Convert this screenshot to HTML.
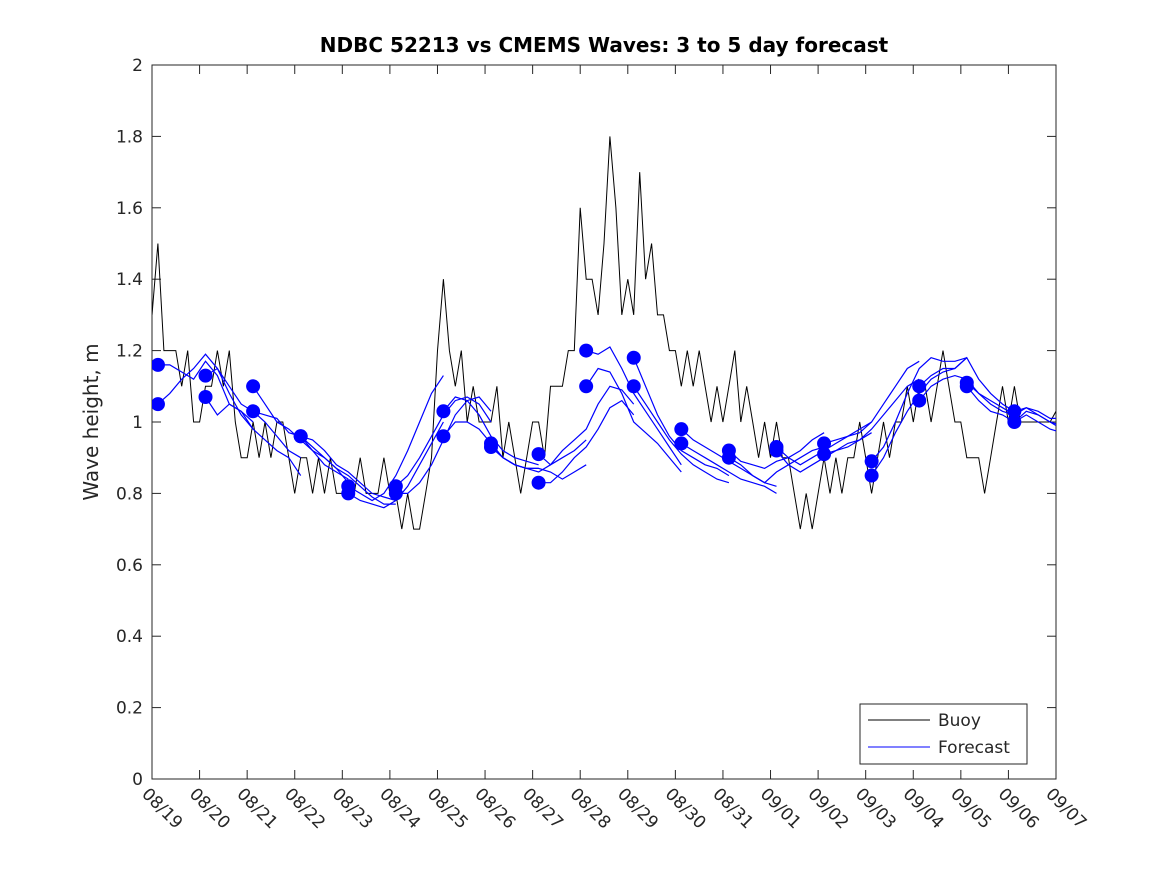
<!DOCTYPE html>
<html><head><meta charset="utf-8"><style>
body{margin:0;background:#fff}
svg text{font-family:"DejaVu Sans","Liberation Sans",sans-serif;fill:#262626}
</style></head><body>
<svg id="chart" width="1167" height="875" viewBox="0 0 1167 875" xmlns="http://www.w3.org/2000/svg">
<defs><clipPath id="plotclip"><rect x="152" y="65" width="904" height="714"/></clipPath></defs>
<rect x="0" y="0" width="1167" height="875" fill="#fff"/>
<text x="604" y="52" text-anchor="middle" font-size="20" font-weight="bold" style="fill:#000">NDBC 52213 vs CMEMS Waves: 3 to 5 day forecast</text>
<text transform="translate(98,422) rotate(-90)" text-anchor="middle" font-size="20">Wave height, m</text>
<g id="axes"></g>
<g id="buoy" clip-path="url(#plotclip)"></g>
<g id="fc" clip-path="url(#plotclip)"></g>
<g>
<rect x="860" y="704" width="167" height="60" fill="#fff" stroke="#262626" stroke-width="1"/>
<line x1="868" y1="720" x2="930" y2="720" stroke="#000" stroke-width="1"/>
<text x="938" y="726" font-size="17">Buoy</text>
<line x1="868" y1="747" x2="930" y2="747" stroke="#0000ff" stroke-width="1"/>
<text x="938" y="753" font-size="17">Forecast</text>
</g>
</svg>
<script>
const xTickLabels=["08/19","08/20","08/21","08/22","08/23","08/24","08/25","08/26","08/27","08/28","08/29","08/30","08/31","09/01","09/02","09/03","09/04","09/05","09/06","09/07"];
const yTickValues=[0,0.2,0.4,0.6,0.8,1,1.2,1.4,1.6,1.8,2];
const yTickLabels=["0","0.2","0.4","0.6","0.8","1","1.2","1.4","1.6","1.8","2"];
// buoy: 8 values per day (3-hourly)
const buoyValues=[
1.3,1.5,1.2,1.2,1.2,1.1,1.2,1.0,
1.0,1.1,1.1,1.2,1.1,1.2,1.0,0.9,
0.9,1.0,0.9,1.0,0.9,1.0,1.0,0.9,
0.8,0.9,0.9,0.8,0.9,0.8,0.9,0.8,
0.8,0.8,0.8,0.9,0.8,0.8,0.8,0.9,
0.8,0.8,0.7,0.8,0.7,0.7,0.8,0.9,
1.2,1.4,1.2,1.1,1.2,1.0,1.1,1.0,
1.0,1.0,1.1,0.9,1.0,0.9,0.8,0.9,
1.0,1.0,0.9,1.1,1.1,1.1,1.2,1.2,
1.6,1.4,1.4,1.3,1.5,1.8,1.6,1.3,
1.4,1.3,1.7,1.4,1.5,1.3,1.3,1.2,
1.2,1.1,1.2,1.1,1.2,1.1,1.0,1.1,
1.0,1.1,1.2,1.0,1.1,1.0,0.9,1.0,
0.9,1.0,0.9,0.9,0.8,0.7,0.8,0.7,
0.8,0.9,0.8,0.9,0.8,0.9,0.9,1.0,
0.9,0.8,0.9,1.0,0.9,1.0,1.0,1.1,
1.0,1.1,1.1,1.0,1.1,1.2,1.1,1.0,
1.0,0.9,0.9,0.9,0.8,0.9,1.0,1.1,
1.0,1.1,1.0,1.0,1.0,1.0,1.0,1.0,1.03];
// forecast runs: start day index, values every 6h from start (day+3h)
const runStartDays=[0,0,1,1,2,2,3,3,4,4,5,5,6,6,7,7,8,8,9,9,10,10,11,11,12,12,13,13,14,14,15,15,16,16,17,17,18,18];
const runValues=[
[1.16,1.16,1.14,1.12,1.17,1.13,1.05,1.03,1.00],
[1.05,1.08,1.12,1.15,1.19,1.15,1.08,1.02,0.98],
[1.13,1.15,1.10,1.05,1.03,1.00,0.96,0.92,0.90],
[1.07,1.02,1.05,1.03,0.98,0.95,0.92,0.90,0.85],
[1.10,1.05,1.00,0.98,0.95,0.92,0.90,0.87,0.83],
[1.03,1.02,1.01,0.97,0.96,0.92,0.88,0.86,0.84],
[0.96,0.95,0.92,0.88,0.86,0.83,0.80,0.79,0.78],
[0.96,0.93,0.90,0.87,0.85,0.82,0.79,0.77,0.77],
[0.82,0.80,0.78,0.80,0.85,0.92,1.00,1.08,1.13],
[0.80,0.78,0.77,0.76,0.78,0.82,0.88,0.94,1.00],
[0.82,0.85,0.90,0.96,1.02,1.06,1.07,1.05,1.00],
[0.80,0.80,0.83,0.88,0.95,1.02,1.06,1.07,1.03],
[1.03,1.07,1.06,1.02,0.96,0.92,0.90,0.89,0.88],
[0.96,1.00,1.00,0.98,0.94,0.90,0.88,0.87,0.87],
[0.94,0.90,0.88,0.87,0.86,0.88,0.90,0.92,0.95],
[0.93,0.90,0.88,0.87,0.87,0.86,0.84,0.86,0.88],
[0.91,0.88,0.92,0.95,0.98,1.05,1.10,1.09,1.05],
[0.83,0.83,0.86,0.90,0.93,0.98,1.04,1.06,1.02],
[1.20,1.19,1.21,1.15,1.08,1.03,0.98,0.93,0.88],
[1.10,1.15,1.14,1.08,1.00,0.97,0.94,0.90,0.86],
[1.18,1.10,1.02,0.96,0.92,0.90,0.88,0.87,0.85],
[1.10,1.05,1.00,0.95,0.91,0.88,0.86,0.84,0.83],
[0.98,0.95,0.93,0.91,0.89,0.87,0.85,0.83,0.82],
[0.94,0.92,0.90,0.88,0.86,0.84,0.83,0.82,0.80],
[0.92,0.89,0.88,0.87,0.89,0.90,0.92,0.95,0.97],
[0.90,0.88,0.85,0.83,0.86,0.88,0.90,0.92,0.93],
[0.93,0.90,0.88,0.90,0.92,0.94,0.96,0.98,1.00],
[0.92,0.88,0.86,0.88,0.90,0.92,0.94,0.95,0.97],
[0.94,0.95,0.96,0.97,1.00,1.05,1.10,1.15,1.17],
[0.91,0.92,0.93,0.95,0.98,1.02,1.06,1.10,1.12],
[0.89,0.93,1.00,1.08,1.15,1.18,1.17,1.17,1.18],
[0.85,0.90,0.97,1.03,1.08,1.12,1.14,1.15,1.18],
[1.10,1.13,1.15,1.15,1.18,1.12,1.08,1.05,1.03],
[1.06,1.10,1.12,1.13,1.12,1.08,1.05,1.03,1.02],
[1.11,1.08,1.06,1.04,1.02,1.04,1.02,1.00,0.99],
[1.10,1.06,1.03,1.02,1.00,1.03,1.02,1.00,0.98],
[1.03,1.04,1.03,1.01,1.01,1.01],
[1.00,1.02,1.00,0.98,0.97,0.96]];

const X0=152,X1=1056,Y0=779,Y1=65,NDAYS=19,YMAX=2;
const NS="http://www.w3.org/2000/svg";
function xs(day){return X0+(X1-X0)*day/NDAYS;}
function ys(v){return Y0-(Y0-Y1)*v/YMAX;}
function mk(tag,attrs,parent){const e=document.createElementNS(NS,tag);for(const k in attrs)e.setAttribute(k,attrs[k]);parent.appendChild(e);return e;}
const axes=document.getElementById('axes');
const frame=mk('rect',{x:X0,y:Y1,width:X1-X0,height:Y0-Y1,fill:'none',stroke:'#262626','stroke-width':1},axes);


yTickValues.forEach((v,i)=>{
  const y=ys(v);
  const t1=mk('line',{x1:X0,y1:y,x2:X0+9,y2:y,stroke:'#262626'},axes);
  
  
  const t2=mk('line',{x1:X1,y1:y,x2:X1-9,y2:y,stroke:'#262626'},axes);
  
  
  const tx=mk('text',{x:X0-9,y:y+6,'text-anchor':'end','font-size':17},axes);
  tx.textContent=yTickLabels[i];
  
  
});
xTickLabels.forEach((lab,i)=>{
  const x=xs(i);
  const t1=mk('line',{x1:x,y1:Y0,x2:x,y2:Y0-9,stroke:'#262626'},axes);
  
  
  const t2=mk('line',{x1:x,y1:Y1,x2:x,y2:Y1+9,stroke:'#262626'},axes);
  
  
  const tx=mk('text',{transform:`translate(${x-11},${Y0+16}) rotate(45)`,'font-size':17},axes);
  tx.textContent=lab;
  
  
});
const bg=document.getElementById('buoy');
const bp=buoyValues.map((v,i)=>xs(i/8).toFixed(1)+','+ys(v).toFixed(1)).join(' ');
const bl=mk('polyline',{points:bp,fill:'none',stroke:'#000','stroke-width':1},bg);


const fg=document.getElementById('fc');
runValues.forEach((vals,r)=>{
  const d0=runStartDays[r]+0.125;
  const pts=vals.map((v,i)=>xs(d0+i*0.25).toFixed(1)+','+ys(v).toFixed(1)).join(' ');
  const pl=mk('polyline',{points:pts,fill:'none',stroke:'#0000ff','stroke-width':1.2},fg);
  
  
});
runValues.forEach((vals,r)=>{
  const d0=runStartDays[r]+0.125;
  const c=mk('circle',{cx:xs(d0),cy:ys(vals[0]),r:7,fill:'#0000ff'},fg);
  
  
});
</script>
</body></html>
